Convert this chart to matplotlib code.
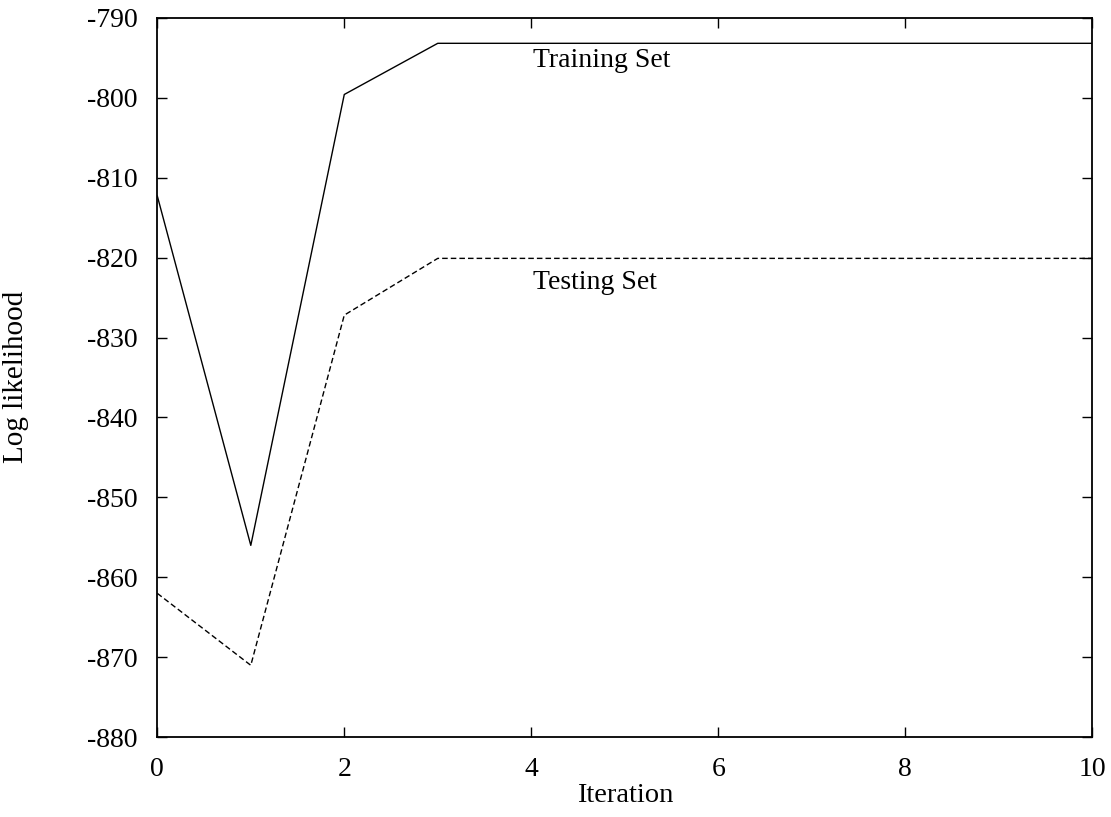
import matplotlib
matplotlib.use("Agg")
import matplotlib.pyplot as plt

iterations = [0, 1, 2, 3, 4, 5, 6, 7, 8, 9, 10]
training = [-812.3, -856.0, -799.6, -793.2, -793.2, -793.2, -793.2, -793.2, -793.2, -793.2, -793.2]
testing = [-862.0, -871.0, -827.2, -820.1, -820.1, -820.1, -820.1, -820.1, -820.1, -820.1, -820.1]

plt.rcParams['font.family'] = ['Liberation Serif', 'DejaVu Serif']
plt.rcParams['lines.scale_dashes'] = False
plt.rcParams['axes.unicode_minus'] = False

fig = plt.figure(figsize=(11.11, 8.17), dpi=100)
ax = fig.add_axes([0.1416, 0.0976, 0.8414, 0.8807])

ax.plot(iterations, training, color='black', lw=1.0)
ax.plot(iterations, testing, color='black', lw=1.0, linestyle=(0, (4, 2.2)))

ax.text(4.02, -795.3, 'Training Set', fontsize=20, va='center', ha='left')
ax.text(4.02, -823.1, 'Testing Set', fontsize=20, va='center', ha='left')

ax.set_xlim(0, 10)
ax.set_ylim(-880, -790)
ax.set_xticks(range(0, 11, 2))
ax.set_yticks(range(-880, -789, 10))
ax.tick_params(direction='in', length=7, width=1, top=True, right=True,
               labelsize=20)
ax.tick_params(axis='y', pad=14)
ax.tick_params(axis='x', pad=14)
for s in ax.spines.values():
    s.set_linewidth(1.3)

ax.set_xlabel('Iteration', fontsize=20.5, labelpad=1)
fig.text(16 / 1111, 1 - 377 / 817, 'Log likelihood', fontsize=21,
         rotation=90, ha='center', va='center')

fig.savefig('out.png', dpi=100)
